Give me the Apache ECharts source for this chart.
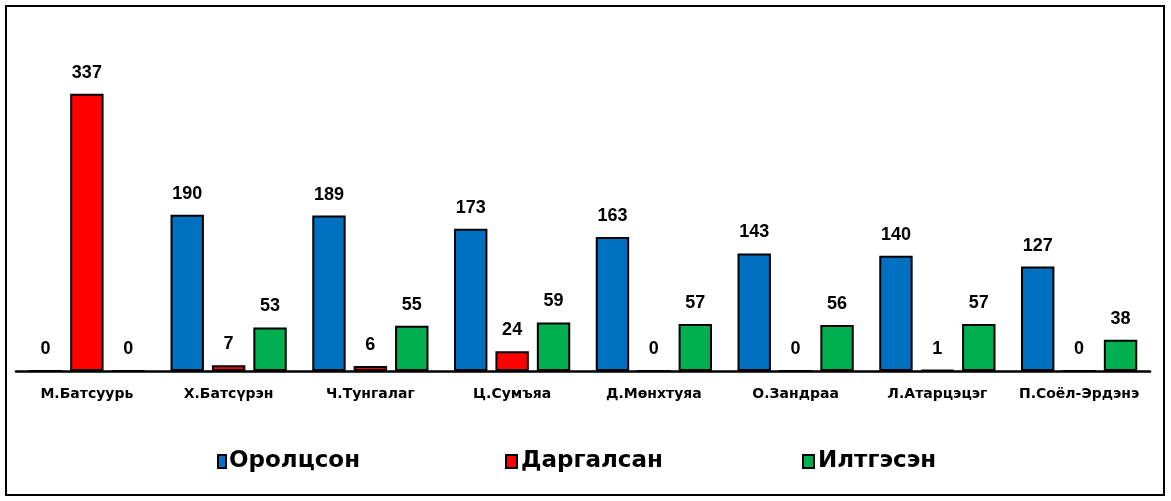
<!DOCTYPE html>
<html>
<head>
    <meta charset="utf-8">
    <title>Chart</title>
    <script src="https://cdn.jsdelivr.net/npm/echarts@6/dist/echarts.min.js"></script>
    <style>
        body { margin: 0; background: #fff; }
        #main { width: 1171px; height: 501px; }
    </style>
</head>
<body>
    <div id="main"></div>
    <script type="text/javascript">
    var names = ['М.Батсуурь', 'Х.Батсүрэн', 'Ч.Тунгалаг', 'Ц.Сумъяа', 'Д.Мөнхтуяа', 'О.Зандраа', 'Л.Атарцэцэг', 'П.Соёл-Эрдэнэ'];
    var orolcson = [0, 190, 189, 173, 163, 143, 140, 127];
    var dargalsan = [337, 7, 6, 24, 0, 0, 1, 0];
    var iltgesen = [0, 53, 55, 59, 57, 56, 57, 38];

    var font = 'Arial, "Liberation Sans", sans-serif';
    var wide = '"DejaVu Sans", Verdana, sans-serif';

    function bar(name, data, color) {
        return {
            name: name,
            type: 'bar',
            data: data,
            barGap: '24%',
            barCategoryGap: '18%',
            itemStyle: { color: color, borderColor: '#000', borderWidth: 2 },
            label: {
                show: true, position: 'top', distance: 12,
                color: '#000', fontWeight: 'bold', fontSize: 18, fontFamily: font
            }
        };
    }

    function legend(name, left, w, gap) {
        return {
            data: [name], left: left, top: 450, padding: 0,
            icon: 'rect', itemWidth: w, itemHeight: 13, itemGap: 0,
            textStyle: { color: '#000', fontWeight: 'bold', fontSize: 23, fontFamily: wide, padding: [0, 0, 0, gap] }
        };
    }

    var chart = echarts.init(document.getElementById('main'));
    chart.setOption({
        animation: false,
        backgroundColor: '#fff',
        grid: { left: 16, right: 21, top: 42, bottom: 130 },
        legend: [
            legend('Оролцсон', 217, 8, -2),
            legend('Даргалсан', 505, 11, -1),
            legend('Илтгэсэн', 802, 11, -1)
        ],
        xAxis: {
            type: 'category',
            data: names,
            axisLine: { lineStyle: { color: '#000', width: 2.5 } },
            axisTick: { show: false },
            axisLabel: { color: '#000', fontWeight: 'bold', fontSize: 14, fontFamily: wide, margin: 16, interval: 0 }
        },
        yAxis: {
            type: 'value', min: 0, max: 400,
            show: false
        },
        graphic: [{
            type: 'rect',
            shape: { x: 6, y: 6, width: 1158, height: 489 },
            style: { fill: 'none', stroke: '#000', lineWidth: 2 },
            silent: true
        }],
        series: [
            bar('Оролцсон', orolcson, '#0070C0'),
            bar('Даргалсан', dargalsan, '#FF0000'),
            bar('Илтгэсэн', iltgesen, '#00B050')
        ]
    });
    </script>
</body>
</html>
